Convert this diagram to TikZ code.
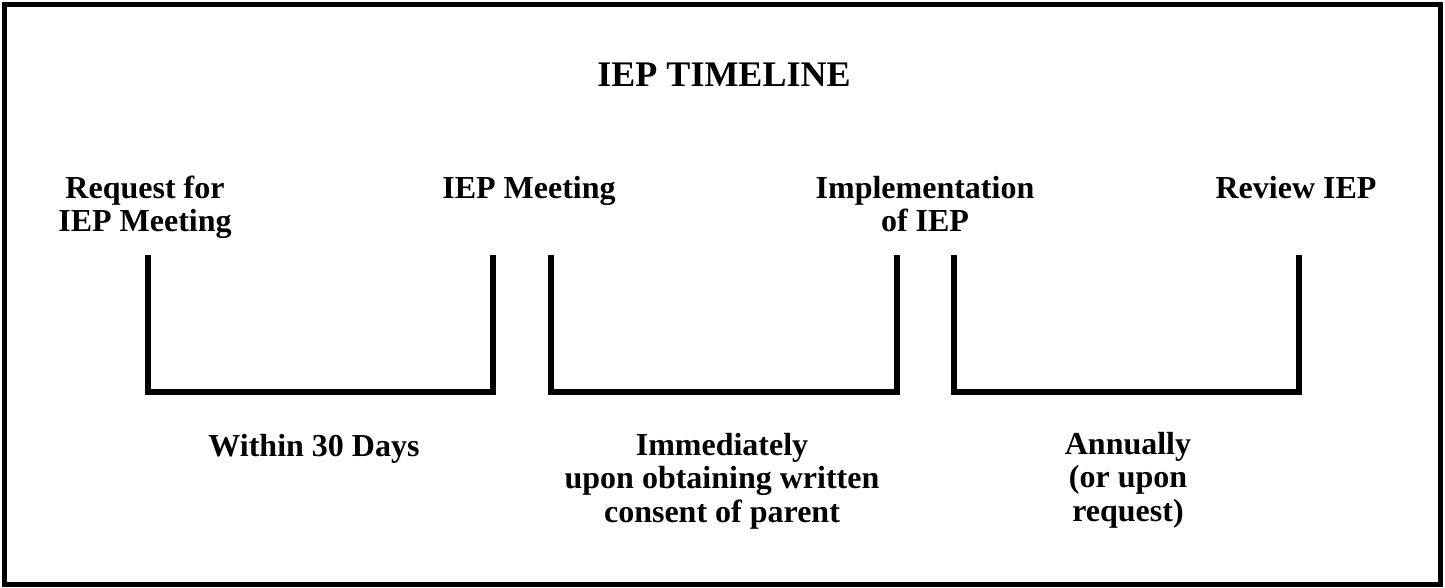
\documentclass[tikz,border=0pt]{standalone}
\usepackage{fontspec}
\setmainfont{Liberation Serif}
\usepackage{tikz}
\usetikzlibrary{positioning}
\tikzset{
    frame/.style={draw=black, line width=2.5pt},
    title/.style={anchor=base, font=\fontsize{18}{20}\selectfont\bfseries},
    event/.style={anchor=base, align=center, inner sep=0pt, font=\fontsize{16}{16.5}\selectfont\bfseries},
    period/.style={anchor=base, align=center, inner sep=0pt, font=\fontsize{16}{16.75}\selectfont\bfseries},
    span/.style={draw=black, line width=3pt, line join=miter}
}
\begin{document}
\begin{tikzpicture}[x=0.5pt,y=-0.5pt]
    \useasboundingbox (0,0) rectangle (1445,588);
    \draw[frame] (4.5,4.5) rectangle (1440.5,584.5);

    \node[title] (head) at (724,87) {IEP TIMELINE};

    \node[event] (req) at (145,232) {Request for\\IEP Meeting};
    \node[event] (meet) at (529,199) {IEP Meeting};
    \node[event] (impl) at (925,232) {Implementation\\of IEP};
    \node[event] (rev) at (1296,199) {Review IEP};

    \coordinate (a1) at (148,255);
    \coordinate (b1) at (493,255);
    \coordinate (a2) at (551,255);
    \coordinate (b2) at (897,255);
    \coordinate (a3) at (954,255);
    \coordinate (b3) at (1299,255);

    \node[period] (within) at (314,456) {Within 30 Days};
    \node[period] (immed) at (722,522) {Immediately\\upon obtaining written\\consent of parent};
    \node[period] (annual) at (1128,521) {Annually\\(or upon\\request)};

    \begin{scope}[every path/.style=span]
      \path (a1) -- ++(0,137) -| (b1);
      \path (a2) -- ++(0,137) -| (b2);
      \path (a3) -- ++(0,137) -| (b3);
    \end{scope}
\end{tikzpicture}
\end{document}
